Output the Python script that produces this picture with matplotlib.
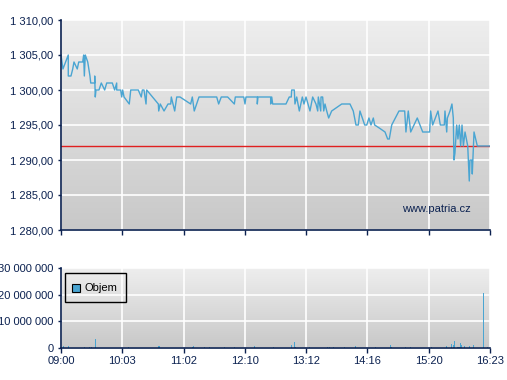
import numpy as np
import matplotlib
matplotlib.use("Agg")
import matplotlib.pyplot as plt
from matplotlib.ticker import FuncFormatter
from matplotlib.patches import Rectangle
from matplotlib.colors import LinearSegmentedColormap

plt.rcParams['font.family'] = ['Liberation Sans', 'DejaVu Sans']

# ---- data (minutes after 09:00) ----
times = [0, 2, 7.5, 7.5, 10.3, 12.1, 13.4, 16.8, 18.3, 22.4,
         23.4, 24.1, 25.1, 27.6, 29.9, 30.7, 34.8, 34.8, 35.4, 36.1,
         39.2, 41.6, 45.1, 47.2, 53.0, 55.4, 57.5, 57.5, 61.6, 62.7,
         63.7, 65.1, 70.5, 72.0, 79.8, 82.9, 84.0, 85.7, 87.8, 88.5,
         100.5, 100.9, 102.5, 106.4, 110.5, 113.3, 113.9, 117.4, 119.5, 122.9,
         133.9, 135.6, 137.6, 142.5, 160.8, 162.8, 165.5, 172.1, 179.0, 180.0,
         188.7, 190.0, 191.0, 202.7, 202.7, 203.4, 216.5, 216.5, 217.6, 218.6,
         232.3, 235.7, 237.8, 238.2, 240.9, 241.6, 243.4, 246.1, 249.2, 250.9,
         253.0, 257.1, 259.9, 263.3, 265.1, 265.7, 268.2, 268.5, 270.2, 271.3,
         272.6, 274.4, 276.4, 279.5, 289.9, 298.4, 301.8, 304.6, 307.0, 308.7,
         313.6, 315.7, 318.0, 320.1, 322.5, 323.9, 329.4, 334.6, 337.3, 339.0,
         341.5, 349.0, 354.9, 356.2, 358.6, 361.1, 367.9, 373.5, 380.7, 381.7,
         383.8, 389.3, 391.7, 395.8, 396.5, 398.3, 399.0, 401.7, 403.7, 405.1,
         405.8, 406.8, 408.6, 409.9, 411.3, 412.7, 414.1, 415.5, 417.2, 420.0,
         421.6, 422.3, 424.1, 424.7, 426.5, 429.9, 443]
prices = [1305, 1303, 1305, 1302, 1302, 1303, 1304, 1303, 1304, 1304,
          1305, 1302, 1305, 1304, 1302, 1301, 1301, 1302, 1299, 1300,
          1300, 1301, 1300, 1301, 1301, 1300, 1301, 1300, 1300, 1299,
          1300, 1299, 1298, 1300, 1300, 1299, 1300, 1300, 1298, 1300,
          1298, 1297, 1298, 1297, 1298, 1298, 1299, 1297, 1299, 1299,
          1298, 1299, 1297, 1299, 1299, 1298, 1299, 1299, 1298, 1299,
          1299, 1298, 1299, 1299, 1298, 1299, 1299, 1298, 1299, 1298,
          1298, 1299, 1299, 1300, 1300, 1298, 1299, 1297, 1299, 1298,
          1299, 1297, 1299, 1298, 1297, 1299, 1297, 1299, 1299, 1297,
          1298, 1297, 1296, 1297, 1298, 1298, 1297, 1295, 1295, 1297,
          1295, 1295, 1296, 1295, 1296, 1295, 1294.5, 1294, 1293, 1293,
          1295, 1297, 1297, 1294, 1297, 1294, 1296, 1294, 1294, 1297,
          1295, 1297, 1295, 1295, 1297, 1294, 1296, 1297, 1298, 1296,
          1290, 1291, 1295, 1293, 1295, 1292, 1295, 1292, 1294, 1292,
          1287, 1290, 1290, 1288, 1294, 1292, 1292]
prev_close = 1292

vol_times = [2.4, 7.5, 24.1, 29.2, 31.0, 35.4, 70.2, 100.5, 101.5, 113.6,
             135.6, 137.0, 148.0, 153.1, 169.3, 179.0, 200.3, 219.2, 238.2, 240.9,
             242.0, 256.4, 275.0, 277.1, 281.2, 292.6, 304.3, 324.5, 340.0, 341.1,
             355.5, 360.7, 382.4, 397.9, 403.0, 405.1, 406.1, 409.2, 410.2, 411.3,
             412.3, 413.3, 416.4, 421.6, 425.7, 436.1, 440.2]
vol_millions = [0.8, 0.8, 0.3, 0.4, 0.4, 3.5, 0.3, 0.8, 0.8, 1.9,
                0.4, 0.8, 0.4, 0.4, 0.3, 0.3, 0.8, 0.4, 1.0, 2.1,
                0.4, 0.4, 0.4, 0.4, 0.4, 0.4, 0.8, 0.4, 1.0, 0.4,
                0.4, 0.4, 0.4, 0.8, 1.4, 1.0, 2.5, 0.4, 0.4, 0.4,
                1.8, 1.0, 0.8, 0.8, 1.0, 20.5, 0.4]
volumes = [v * 1e6 for v in vol_millions]

tick_labels = ['09:00', '10:03', '11:02', '12:10', '13:12', '14:16', '15:20', '16:23']
session_len = 443
legend_label = 'Objem'

# ---- styling ----
navy = '#0b2150'
line_blue = '#4aa5d2'
W, H = 507, 380
fig = plt.figure(figsize=(W / 100, H / 100), dpi=100)
fig.patch.set_facecolor('white')

ax = fig.add_axes([61 / W, 1 - 230 / H, 429 / W, 210 / H])
axv = fig.add_axes([61 / W, 1 - 348 / H, 429 / W, 80 / H])

grad = np.linspace(0, 1, 256).reshape(-1, 1)
cmap = LinearSegmentedColormap.from_list('bg', ['#c8c8c8', '#eeeeee'])

xt = [k * session_len / 7 for k in range(8)]

for a in (ax, axv):
    a.imshow(grad, extent=[0, 1, 0, 1], transform=a.transAxes, cmap=cmap,
             origin='lower', aspect='auto', zorder=0)
    a.set_xlim(0, session_len)
    a.set_xticks(xt)
    a.grid(True, color='white', linewidth=1.2, zorder=1)
    a.set_axisbelow(True)
    for s in ('top', 'right'):
        a.spines[s].set_visible(False)
    for s in ('left', 'bottom'):
        a.spines[s].set_color(navy)
        a.spines[s].set_linewidth(1.2)
        a.spines[s].set_zorder(5)
    a.tick_params(axis='both', colors=navy, labelcolor=navy, labelsize=8)
    a.tick_params(axis='y', length=2.5, width=1, pad=3)
    a.tick_params(axis='x', length=3.6, width=1, pad=2)

# price panel
ax.plot(times, prices, color=line_blue, linewidth=1.0, zorder=3)
ax.axhline(prev_close, color='#e02020', linewidth=1.0, zorder=2)
ax.set_ylim(1280, 1310)
ax.set_yticks(np.arange(1280, 1311, 5))
ax.yaxis.set_major_formatter(FuncFormatter(
    lambda v, p: f"{v:,.2f}".replace(',', ' ').replace('.', ',')))
ax.set_xticklabels([])
ax.text(0.955, 0.075, 'www.patria.cz', transform=ax.transAxes, ha='right',
        va='bottom', color=navy, fontsize=8, zorder=4)

# volume panel
axv.bar(vol_times, volumes, width=1.0, color=line_blue, linewidth=0, zorder=3)
axv.set_ylim(0, 30e6)
axv.set_yticks([0, 10e6, 20e6, 30e6])
axv.yaxis.set_major_formatter(FuncFormatter(
    lambda v, p: f"{int(round(v)):,}".replace(',', ' ')))
axv.set_xticklabels(tick_labels)

# legend box drawn in axes coordinates
axv.add_patch(Rectangle((0.0093, 0.579), 0.1415, 0.355, transform=axv.transAxes,
                        facecolor='none', edgecolor='black', linewidth=1.0, zorder=6))
axv.plot([0.0361], [0.756], transform=axv.transAxes, marker='s', markersize=5.5,
         markerfacecolor=line_blue, markeredgecolor='black', markeredgewidth=0.8,
         linestyle='none', zorder=7)
axv.text(0.0555, 0.756, legend_label, transform=axv.transAxes, ha='left',
         va='center', fontsize=8, color='black', zorder=7)

fig.savefig('out.png', dpi=100)
